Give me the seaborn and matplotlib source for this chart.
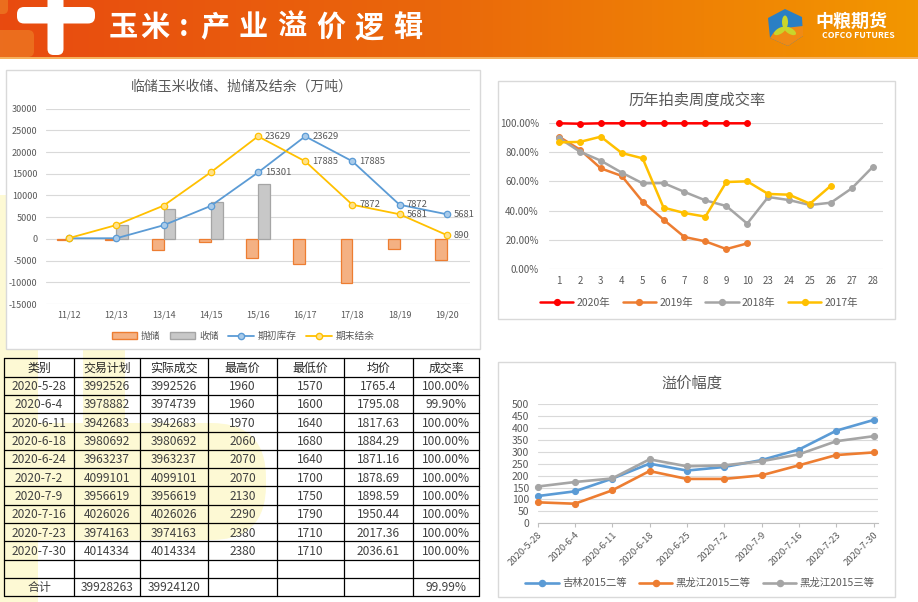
import numpy as np
import pandas as pd
import matplotlib
matplotlib.use("Agg")
import matplotlib.pyplot as plt
import seaborn as sns
from matplotlib.patches import FancyBboxPatch, Rectangle, Polygon, Ellipse, Patch
from matplotlib.lines import Line2D
from matplotlib.ticker import PercentFormatter, MultipleLocator

# ---------------- data ----------------
seasons = ["11/12", "12/13", "13/14", "14/15", "15/16", "16/17", "17/18", "18/19", "19/20"]
release = [-200, -200, -2650, -800, -4300, -5830, -10050, -2300, -4830]   # 抛储
purchase = [0, 3150, 6950, 8400, 12600, 0, 0, 0, 0]                     # 收储
stock_begin = [150, 150, 3150, 7600, 15301, 23629, 17885, 7872, 5681]   # 期初库存
stock_end = [200, 3200, 7670, 15350, 23629, 17885, 7872, 5681, 890]     # 期末结余
begin_labels = [None, None, None, None, "15301", "23629", "17885", "7872", "5681"]
end_labels = [None, None, None, None, "23629", "17885", "7872", "5681", "890"]

weeks = ["1", "2", "3", "4", "5", "6", "7", "8", "9", "10", "23", "24", "25", "26", "27", "28"]
rate_2020 = [1.0, 0.997, 1.0, 1.0, 1.0, 1.0, 1.0, 1.0, 1.0, 1.0]
rate_2019 = [0.908, 0.819, 0.690, 0.638, 0.461, 0.337, 0.218, 0.188, 0.135, 0.174]
rate_2018 = [0.899, 0.805, 0.743, 0.661, 0.587, 0.589, 0.528, 0.470, 0.431, 0.310,
             0.493, 0.472, 0.438, 0.454, 0.553, 0.700]
rate_2017 = [0.869, 0.872, 0.908, 0.796, 0.759, 0.420, 0.383, 0.358, 0.596, 0.601,
             0.514, 0.509, 0.447, 0.571]

dates = ["2020-5-28", "2020-6-4", "2020-6-11", "2020-6-18", "2020-6-25",
         "2020-7-2", "2020-7-9", "2020-7-16", "2020-7-23", "2020-7-30"]
jilin_2 = [114, 134, 187, 250, 221, 236, 265, 309, 388, 433]
hlj_2 = [88, 82, 138, 219, 186, 186, 201, 243, 286, 297]
hlj_3 = [154, 173, 188, 268, 239, 243, 260, 289, 344, 365]

table_header = ["类别", "交易计划", "实际成交", "最高价", "最低价", "均价", "成交率"]
tbl_dates = ["2020-5-28", "2020-6-4", "2020-6-11", "2020-6-18", "2020-6-24",
             "2020-7-2", "2020-7-9", "2020-7-16", "2020-7-23", "2020-7-30"]
tbl_plan = ["3992526", "3978882", "3942683", "3980692", "3963237",
            "4099101", "3956619", "4026026", "3974163", "4014334"]
tbl_deal = ["3992526", "3974739", "3942683", "3980692", "3963237",
            "4099101", "3956619", "4026026", "3974163", "4014334"]
tbl_high = ["1960", "1960", "1970", "2060", "2070", "2070", "2130", "2290", "2380", "2380"]
tbl_low = ["1570", "1600", "1640", "1680", "1640", "1700", "1750", "1790", "1710", "1710"]
tbl_avg = ["1765.4", "1795.08", "1817.63", "1884.29", "1871.16",
           "1878.69", "1898.59", "1950.44", "2017.36", "2036.61"]
tbl_rate = ["100.00%", "99.90%", "100.00%", "100.00%", "100.00%",
            "100.00%", "100.00%", "100.00%", "100.00%", "100.00%"]
tbl_total = ["合计", "39928263", "39924120", "", "", "", "99.99%"]

# ---------------- style ----------------
sns.set_style("white")
plt.rcParams["font.family"] = ["Noto Sans CJK SC", "DejaVu Sans"]
plt.rcParams["axes.unicode_minus"] = False
TXT = "#595959"
W, H = 918, 602

fig = plt.figure(figsize=(W / 100, H / 100), dpi=100)
bg = fig.add_axes([0, 0, 1, 1])
bg.set_xlim(0, W)
bg.set_ylim(H, 0)
bg.axis("off")


def fx(px):
    return px / W


def fy(py):
    return 1 - py / H


# header gradient
xs = np.linspace(0, 1, 300)
stops = [0, 0.48, 1]
cols = np.array([[232, 74, 16], [234, 104, 11], [243, 151, 0]]) / 255
grad = np.stack([np.interp(xs, stops, cols[:, k]) for k in range(3)], axis=-1)[None, :, :]
bg.imshow(grad, extent=[0, W, 57, 0], aspect="auto", zorder=0)
bg.add_patch(Rectangle((0, 57), W, 2, color="#F6B25E", lw=0, zorder=1))
# faint orange plus behind white plus
bg.add_patch(FancyBboxPatch((-6, 30), 40, 27, boxstyle="round,pad=0,rounding_size=6",
                            color="#EF8A2A", alpha=0.55, lw=0, zorder=1))
bg.add_patch(FancyBboxPatch((-6, -6), 14, 20, boxstyle="round,pad=0,rounding_size=5",
                            color="#EF8A2A", alpha=0.55, lw=0, zorder=1))
# white plus
bg.add_patch(FancyBboxPatch((47.5, -8), 16, 63, boxstyle="round,pad=0,rounding_size=6",
                            color="white", lw=0, zorder=2))
bg.add_patch(FancyBboxPatch((17, 7), 78, 16.5, boxstyle="round,pad=0,rounding_size=7",
                            color="white", lw=0, zorder=2))
title_chars = ["玉", "米", ":", "产", "业", "溢", "价", "逻", "辑"]
title_x = [123.5, 155, 184, 215, 253.5, 292, 330.5, 369, 407.5]
for ch, x in zip(title_chars, title_x):
    bg.text(x, 27, ch, color="white", fontsize=21, fontweight="bold",
            ha="center", va="center", zorder=3)

# logo
hexpts = [(785, 9), (802, 17), (803, 36), (788, 46), (770, 38), (768, 18)]
bg.add_patch(Polygon(hexpts, closed=True, color="#2A7FC4", lw=0, zorder=3))
bg.add_patch(Polygon([(785, 28), (803, 26), (803, 36), (788, 46), (770, 38), (774, 32)],
                     closed=True, color="#F08A14", lw=0, zorder=4))
for ang in [90, 210, 330]:
    a = np.deg2rad(ang)
    bg.add_patch(Ellipse((785 + 6 * np.cos(a), 28 - 6 * np.sin(a)), 6, 13, angle=90 - ang,
                         color="#C9D52B", lw=0, zorder=5))
bg.text(851, 21, "中粮期货", color="white", fontsize=13, fontweight="bold",
        ha="center", va="center", zorder=3)
bg.text(858, 36, "COFCO FUTURES", color="white", fontsize=6.3, fontweight="bold",
        ha="center", va="center", zorder=3)

# pale yellow watermark
wm = "#FDF9D4"
bg.add_patch(Rectangle((0, 195), 38, 407, color=wm, lw=0, zorder=0))
bg.add_patch(Rectangle((83, 300), 42, 240, color=wm, lw=0, zorder=0))
bg.add_patch(FancyBboxPatch((38, 423), 228, 117, boxstyle="round,pad=0,rounding_size=55",
                            color=wm, lw=0, zorder=0))
bg.add_patch(Rectangle((38, 423), 120, 117, color=wm, lw=0, zorder=0))

# panel boxes
for (x0, y0, x1, y1) in [(5.5, 69.5, 480, 349), (498, 81, 895, 319), (498, 362, 895, 597)]:
    bg.add_patch(Rectangle((x0, y0), x1 - x0, y1 - y0, facecolor="white",
                           edgecolor="#D9D9D9", lw=1, zorder=1))

# ---------------- chart 1: bars + lines ----------------
ax1 = fig.add_axes([fx(45.7), fy(304), fx(470.3 - 45.7), (304 - 108.7) / H])
ax1.patch.set_alpha(0)
idx = np.arange(len(seasons))
bars = pd.DataFrame({
    "pos": np.concatenate([idx, idx]),
    "kind": ["抛储"] * len(seasons) + ["收储"] * len(seasons),
    "value": release + purchase,
})
sns.barplot(data=bars, x="pos", y="value", hue="kind", hue_order=["抛储", "收储"],
            palette={"抛储": "#F4B183", "收储": "#C8C8C8"}, width=0.5, saturation=1,
            legend=False, ax=ax1, zorder=2)
for cont, ec in zip(ax1.containers, ["#ED7D31", "#A5A5A5"]):
    for b in cont:
        if b.get_height() == 0:
            b.set_visible(False)
        b.set_edgecolor(ec)
        b.set_linewidth(0.9)
sns.lineplot(x=idx, y=stock_begin, color="#5B9BD5", lw=1.3, marker="o", markersize=4.6,
             markerfacecolor="#A9CBEA", markeredgecolor="#5B9BD5", markeredgewidth=0.9,
             ax=ax1, zorder=3)
sns.lineplot(x=idx, y=stock_end, color="#FFC000", lw=1.3, marker="o", markersize=4.6,
             markerfacecolor="#FFE28A", markeredgecolor="#FFC000", markeredgewidth=0.9,
             ax=ax1, zorder=3)
for i in idx:
    if begin_labels[i]:
        ax1.annotate(begin_labels[i], (i, stock_begin[i]), xytext=(5, 0), textcoords="offset points",
                     fontsize=6.8, color=TXT, va="center", ha="left", zorder=4)
    if end_labels[i]:
        ax1.annotate(end_labels[i], (i, stock_end[i]), xytext=(5, 0), textcoords="offset points",
                     fontsize=6.8, color=TXT, va="center", ha="left", zorder=4)
ax1.set_xlim(-0.5, len(seasons) - 0.5)
ax1.set_ylim(-15000, 30000)
ax1.yaxis.set_major_locator(MultipleLocator(5000))
ax1.set_xticks(idx)
ax1.set_xticklabels(seasons)
ax1.grid(axis="y", color="#D9D9D9", lw=0.8, zorder=0)
ax1.set_axisbelow(True)
for s in ax1.spines.values():
    s.set_visible(False)
ax1.tick_params(axis="both", length=0, labelsize=6.5, labelcolor=TXT)
ax1.tick_params(axis="y", pad=6)
ax1.tick_params(axis="x", pad=5)
ax1.set_xlabel("")
ax1.set_ylabel("")
fig.text(fx(242), fy(87), "临储玉米收储、抛储及结余（万吨）", fontsize=10, color=TXT,
         ha="center", va="center")
h1 = [Patch(facecolor="#F4B183", edgecolor="#ED7D31"),
      Patch(facecolor="#C8C8C8", edgecolor="#A5A5A5"),
      Line2D([], [], color="#5B9BD5", marker="o", markerfacecolor="#A9CBEA", markersize=4.5, lw=1.3),
      Line2D([], [], color="#FFC000", marker="o", markerfacecolor="#FFE28A", markersize=4.5, lw=1.3)]
fig.legend(h1, ["抛储", "收储", "期初库存", "期末结余"], loc="center",
           bbox_to_anchor=(fx(243), fy(336)), ncol=4, frameon=False, fontsize=7,
           labelcolor=TXT, handlelength=2.6, handleheight=0.7, columnspacing=1.0, handletextpad=0.4)

# ---------------- chart 2: weekly deal rate ----------------
ax2 = fig.add_axes([fx(548.5), fy(268.7), fx(883.2 - 548.5), (268.7 - 123.3) / H])
ax2.patch.set_alpha(0)
series2 = [("2020年", rate_2020, "#FF0000"), ("2019年", rate_2019, "#ED7D31"),
           ("2018年", rate_2018, "#A5A5A5"), ("2017年", rate_2017, "#FFC000")]
for name, vals, c in series2:
    sns.lineplot(x=np.arange(len(vals)), y=vals, color=c, lw=1.8, marker="o", markersize=4.2,
                 markeredgecolor=c, ax=ax2, clip_on=False, zorder=3)
ax2.set_xlim(-0.5, len(weeks) - 0.5)
ax2.set_ylim(0, 1.0)
ax2.yaxis.set_major_locator(MultipleLocator(0.2))
ax2.yaxis.set_major_formatter(PercentFormatter(xmax=1, decimals=2))
ax2.set_xticks(np.arange(len(weeks)))
ax2.set_xticklabels(weeks)
ax2.grid(axis="y", color="#D9D9D9", lw=0.8, zorder=0)
for s in ax2.spines.values():
    s.set_visible(False)
ax2.tick_params(axis="both", length=0, labelsize=7, labelcolor=TXT)
ax2.tick_params(axis="y", pad=7)
ax2.tick_params(axis="x", pad=5)
fig.text(fx(697), fy(100), "历年拍卖周度成交率", fontsize=11, color=TXT, ha="center", va="center")
h2 = [Line2D([], [], color=c, lw=1.8, marker="o", markersize=4.2) for _, _, c in series2]
fig.legend(h2, [n for n, _, _ in series2], loc="center", bbox_to_anchor=(fx(699), fy(303)),
           ncol=4, frameon=False, fontsize=7.5, labelcolor=TXT, handlelength=3.2,
           columnspacing=1.2, handletextpad=0.3)

# ---------------- chart 3: premium ----------------
ax3 = fig.add_axes([fx(537.5), fy(523.3), fx(878 - 537.5), (523.3 - 404) / H])
ax3.patch.set_alpha(0)
series3 = [("吉林2015二等", jilin_2, "#5B9BD5"), ("黑龙江2015二等", hlj_2, "#ED7D31"),
           ("黑龙江2015三等", hlj_3, "#A5A5A5")]
for name, vals, c in series3:
    sns.lineplot(x=np.arange(len(vals)), y=vals, color=c, lw=1.9, marker="o", markersize=4.4,
                 markeredgecolor=c, ax=ax3, clip_on=False, zorder=3)
ax3.set_xlim(0, 9.12)
ax3.set_ylim(0, 500)
ax3.yaxis.set_major_locator(MultipleLocator(50))
ax3.set_xticks(np.arange(len(dates)))
ax3.set_xticklabels(dates, rotation=45, ha="right", rotation_mode="anchor")
ax3.grid(axis="y", color="#D9D9D9", lw=0.8, zorder=0)
for k, s in ax3.spines.items():
    s.set_visible(k == "bottom")
ax3.spines["bottom"].set_color("#BFBFBF")
ax3.tick_params(axis="y", length=0, labelsize=7.5, labelcolor=TXT, pad=6)
ax3.tick_params(axis="x", length=3, color="#BFBFBF", labelsize=6.8, labelcolor=TXT, pad=2,
                bottom=True)
fig.text(fx(692), fy(383), "溢价幅度", fontsize=11, color=TXT, ha="center", va="center")
h3 = [Line2D([], [], color=c, lw=1.9, marker="o", markersize=4.4) for _, _, c in series3]
fig.legend(h3, [n for n, _, _ in series3], loc="center", bbox_to_anchor=(fx(700), fy(583)),
           ncol=3, frameon=False, fontsize=7.5, labelcolor=TXT, handlelength=3.2,
           columnspacing=1.2, handletextpad=0.3)

# ---------------- table ----------------
col_edges = [4, 74, 140, 208, 277, 344, 413, 479]
top, row_h = 358.3, 18.3
rows = [table_header]
for r in range(len(tbl_dates)):
    rows.append([tbl_dates[r], tbl_plan[r], tbl_deal[r], tbl_high[r], tbl_low[r],
                 tbl_avg[r], tbl_rate[r]])
rows.append([""] * 7)
rows.append(tbl_total)
n_rows = len(rows)
for r in range(n_rows + 1):
    bg.plot([col_edges[0], col_edges[-1]], [top + r * row_h] * 2, color="black", lw=0.9, zorder=2)
for x in col_edges:
    bg.plot([x, x], [top, top + n_rows * row_h], color="black", lw=0.9, zorder=2)
for r, row in enumerate(rows):
    yc = top + (r + 0.55) * row_h
    for c, val in enumerate(row):
        xc = (col_edges[c] + col_edges[c + 1]) / 2
        bg.text(xc, yc, val, fontsize=8.6, color="#262626" if r == 0 else "#404040",
                ha="center", va="center", zorder=3)

fig.savefig("out.png", dpi=100)
